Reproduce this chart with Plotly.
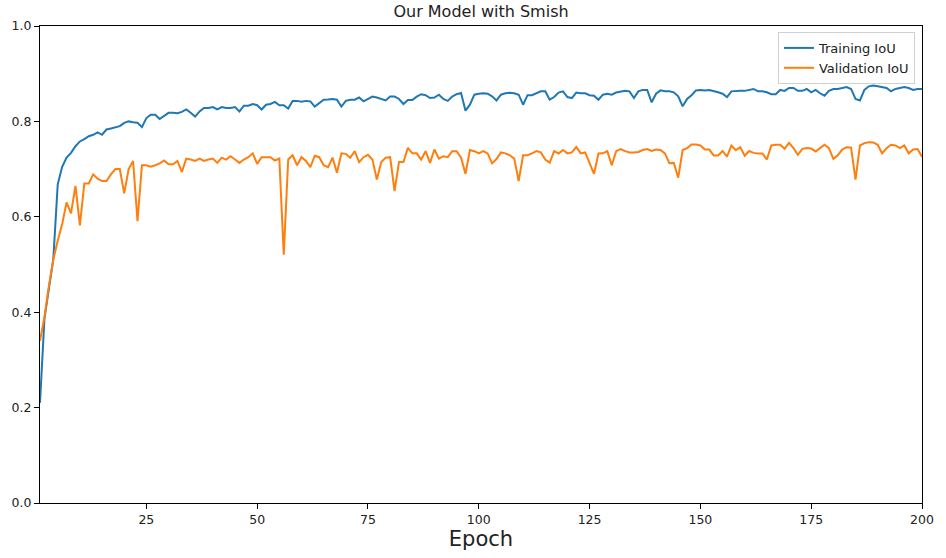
import plotly.graph_objects as go

epochs = list(range(1, 201))

train_iou = [
    0.21, 0.386, 0.449, 0.511, 0.668, 0.705, 0.724, 0.734, 0.748, 0.758,
    0.763, 0.769, 0.772, 0.777, 0.772, 0.783, 0.785, 0.788, 0.790, 0.797,
    0.800, 0.798, 0.797, 0.788, 0.807, 0.814, 0.814, 0.805, 0.812, 0.818,
    0.818, 0.817, 0.820, 0.825, 0.818, 0.810, 0.821, 0.828, 0.828, 0.830,
    0.825, 0.830, 0.828, 0.828, 0.830, 0.821, 0.833, 0.833, 0.8365, 0.834,
    0.825, 0.835, 0.8365, 0.841, 0.834, 0.834, 0.827, 0.843, 0.843, 0.841,
    0.843, 0.842, 0.831, 0.838, 0.8455, 0.846, 0.847, 0.8455, 0.831, 0.843,
    0.8455, 0.8455, 0.850, 0.842, 0.847, 0.852, 0.850, 0.847, 0.844, 0.852,
    0.852, 0.847, 0.8365, 0.845, 0.845, 0.852, 0.857, 0.855, 0.849, 0.850,
    0.856, 0.847, 0.843, 0.852, 0.857, 0.8595, 0.8225, 0.835, 0.856, 0.858,
    0.859, 0.858, 0.8525, 0.844, 0.856, 0.859, 0.860, 0.859, 0.856, 0.835,
    0.855, 0.855, 0.859, 0.863, 0.863, 0.8455, 0.851, 0.8605, 0.863, 0.851,
    0.849, 0.8605, 0.859, 0.859, 0.855, 0.854, 0.8455, 0.856, 0.858, 0.856,
    0.8605, 0.863, 0.864, 0.863, 0.849, 0.863, 0.866, 0.866, 0.840, 0.858,
    0.865, 0.863, 0.863, 0.861, 0.8525, 0.8316, 0.847, 0.855, 0.865, 0.866,
    0.865, 0.866, 0.864, 0.861, 0.858, 0.851, 0.863, 0.864, 0.864, 0.864,
    0.866, 0.868, 0.863, 0.863, 0.861, 0.857, 0.857, 0.866, 0.864, 0.870,
    0.870, 0.864, 0.864, 0.868, 0.861, 0.866, 0.859, 0.854, 0.864, 0.868,
    0.868, 0.870, 0.872, 0.868, 0.847, 0.844, 0.866, 0.8735, 0.875, 0.8735,
    0.872, 0.870, 0.863, 0.868, 0.870, 0.872, 0.870, 0.866, 0.868, 0.868,
]

val_iou = [
    0.34, 0.39, 0.455, 0.51, 0.55, 0.585, 0.63, 0.607, 0.665, 0.582,
    0.670, 0.670, 0.689, 0.680, 0.675, 0.675, 0.689, 0.700, 0.700, 0.649,
    0.700, 0.717, 0.591, 0.708, 0.708, 0.705, 0.708, 0.712, 0.718, 0.710,
    0.710, 0.717, 0.694, 0.722, 0.720, 0.717, 0.722, 0.717, 0.720, 0.722,
    0.713, 0.724, 0.720, 0.727, 0.720, 0.713, 0.720, 0.725, 0.733, 0.711,
    0.725, 0.725, 0.725, 0.718, 0.722, 0.5205, 0.720, 0.729, 0.708, 0.725,
    0.717, 0.704, 0.728, 0.725, 0.708, 0.704, 0.724, 0.6925, 0.733, 0.732,
    0.724, 0.7375, 0.7147, 0.725, 0.730, 0.720, 0.678, 0.715, 0.724, 0.725,
    0.654, 0.715, 0.715, 0.7446, 0.733, 0.733, 0.720, 0.7375, 0.713, 0.741,
    0.722, 0.727, 0.725, 0.7375, 0.7375, 0.724, 0.690, 0.740, 0.7375, 0.733,
    0.7376, 0.7328, 0.712, 0.721, 0.735, 0.733, 0.729, 0.722, 0.675, 0.729,
    0.729, 0.733, 0.7376, 0.735, 0.720, 0.7135, 0.7376, 0.7328, 0.740, 0.733,
    0.735, 0.7467, 0.733, 0.735, 0.7135, 0.690, 0.7328, 0.733, 0.7376, 0.708,
    0.7376, 0.742, 0.7376, 0.735, 0.735, 0.736, 0.740, 0.742, 0.738, 0.741,
    0.740, 0.733, 0.7125, 0.713, 0.682, 0.740, 0.744, 0.7515, 0.7515, 0.7495,
    0.741, 0.741, 0.7286, 0.7286, 0.738, 0.726, 0.7495, 0.7398, 0.746, 0.728,
    0.738, 0.734, 0.7328, 0.7328, 0.720, 0.7495, 0.751, 0.751, 0.7425, 0.755,
    0.744, 0.730, 0.7425, 0.744, 0.743, 0.737, 0.744, 0.751, 0.744, 0.7216,
    0.729, 0.741, 0.746, 0.745, 0.678, 0.7495, 0.7543, 0.7565, 0.756, 0.751,
    0.733, 0.744, 0.751, 0.7495, 0.744, 0.7495, 0.733, 0.741, 0.742, 0.726,
]

x_ticks = [25, 50, 75, 100, 125, 150, 175, 200]
y_ticks = [0.0, 0.2, 0.4, 0.6, 0.8, 1.0]
y_tick_labels = ["0.0", "0.2", "0.4", "0.6", "0.8", "1.0"]

FONT = "DejaVu Sans"

fig = go.Figure()
fig.add_trace(go.Scatter(x=epochs, y=train_iou, mode="lines", name="Training IoU",
                         line=dict(color="#1f77b4", width=2)))
fig.add_trace(go.Scatter(x=epochs, y=val_iou, mode="lines", name="Validation IoU",
                         line=dict(color="#ff7f0e", width=2)))

axis_common = dict(showline=True, linecolor="black", linewidth=1, mirror=True,
                   showgrid=False, zeroline=False, ticks="outside", ticklen=5,
                   tickwidth=1, tickcolor="black",
                   tickfont=dict(family=FONT, size=12.5, color="#222222"))

fig.update_layout(
    width=946, height=558,
    margin=dict(l=40, r=16, t=26, b=53),
    paper_bgcolor="white", plot_bgcolor="white",
    font=dict(family=FONT, color="#222222"),
    title=dict(text="Our Model with Smish", x=0.5, xref="paper", xanchor="center",
               y=1 - 11.5 / 558, yanchor="middle", yref="container",
               font=dict(family=FONT, size=16, color="#222222")),
    xaxis=dict(range=[1, 200], tickvals=x_ticks,
               title=dict(text="Epoch", font=dict(family=FONT, size=21, color="#222222"),
                          standoff=4),
               **axis_common),
    yaxis=dict(range=[0, 1], tickvals=y_ticks, ticktext=y_tick_labels, **axis_common),
    legend=dict(x=0.992, y=0.9875, xanchor="right", yanchor="top",
                bgcolor="rgba(255,255,255,0.8)", bordercolor="#d0d0d0", borderwidth=1,
                font=dict(family=FONT, size=13, color="#222222")),
    showlegend=True,
)

fig.write_html("out.html")

# remove the default page margin so the 946x558 figure fits the window exactly
with open("out.html", "r", encoding="utf-8") as f:
    html = f.read()
html = html.replace("<head>", "<head><style>html,body{margin:0;padding:0;overflow:hidden}</style>", 1)
with open("out.html", "w", encoding="utf-8") as f:
    f.write(html)
